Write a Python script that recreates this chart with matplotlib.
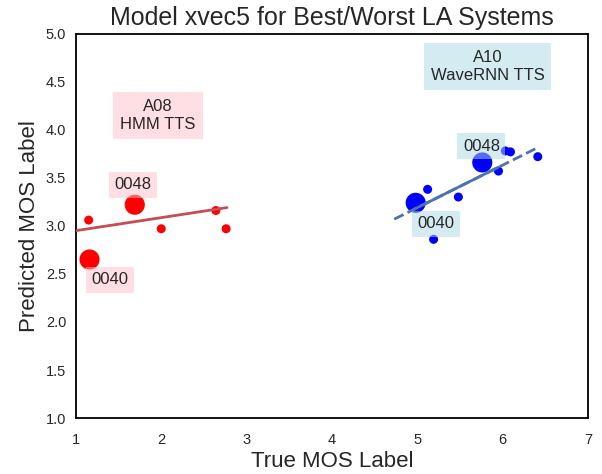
import numpy as np
import matplotlib
matplotlib.use("Agg")
import matplotlib.pyplot as plt
import seaborn as sns

# A08 (HMM TTS) points: true MOS, predicted MOS
a08_true = [1.16, 1.69, 1.15, 2.00, 2.64, 2.76]
a08_pred = [2.65, 3.22, 3.06, 2.97, 3.16, 2.97]
a08_big = [True, True, False, False, False, False]
a08_ids = ["0040", "0048", "", "", "", ""]

# A10 (WaveRNN TTS) points
a10_true = [4.98, 5.76, 5.12, 5.48, 5.19, 5.95, 6.03, 6.09, 6.41]
a10_pred = [3.24, 3.66, 3.38, 3.30, 2.86, 3.57, 3.78, 3.77, 3.72]
a10_big = [True, True, False, False, False, False, False, False, False]
a10_ids = ["0040", "0048", "", "", "", "", "", "", ""]

# fitted lines (endpoints)
a08_fit_x = [1.0, 2.77]
a08_fit_y = [2.95, 3.19]
a10_fit_x = [4.73, 6.40]
a10_fit_y = [3.07, 3.81]

sns.set_style("white")
plt.rcParams['font.family'] = ['Liberation Sans', 'DejaVu Sans']

fig = plt.figure(figsize=(6.02, 4.74), dpi=100)
ax = fig.add_axes([0.126, 0.118, 0.851, 0.811])

for xs, ys, big, col in [(a08_true, a08_pred, a08_big, "red"),
                         (a10_true, a10_pred, a10_big, "blue")]:
    sizes = [210 if b else 42 for b in big]
    ax.scatter(xs, ys, s=sizes, c=col, edgecolors="none", zorder=2)

ax.plot(a08_fit_x, a08_fit_y, color="#c44e52", lw=2, zorder=3)
ax.plot(a10_fit_x, a10_fit_y, color="#4c72b0", lw=2, ls="--", zorder=3)
ax.plot([4.95, 5.95], np.interp([4.95, 5.95], a10_fit_x, a10_fit_y),
        color="#4c72b0", lw=2, zorder=3)

label_pos = {("A08", "0048"): (1.67, 3.43), ("A08", "0040"): (1.40, 2.44),
             ("A10", "0048"): (5.75, 3.83), ("A10", "0040"): (5.22, 3.02)}
for sys_name, ids, fc in [("A08", a08_ids, "pink"), ("A10", a10_ids, "lightblue")]:
    for i in ids:
        if i:
            x, y = label_pos[(sys_name, i)]
            ax.text(x, y, i, ha="center", va="center", fontsize=12,
                    color="#262626", zorder=4,
                    bbox=dict(facecolor=fc, alpha=0.5, edgecolor="none", pad=4))

ax.text(1.96, 4.15, "A08\nHMM TTS", ha="center", va="center", fontsize=12,
        color="#262626", bbox=dict(facecolor="pink", alpha=0.5, edgecolor="none", pad=5))
ax.text(5.82, 4.66, "A10\nWaveRNN TTS", ha="center", va="center", fontsize=12,
        color="#262626", bbox=dict(facecolor="lightblue", alpha=0.5, edgecolor="none", pad=5))

ax.set_xlim(1, 7)
ax.set_ylim(1, 5)
ax.set_yticks(np.arange(1.0, 5.01, 0.5))
ax.set_xticks(range(1, 8))
ax.tick_params(labelsize=10.5, colors="#262626")
ax.tick_params(axis="x", pad=7)
for sp in ax.spines.values():
    sp.set_color("black")
    sp.set_linewidth(1.3)
ax.set_xlabel("True MOS Label", fontsize=16, color="#262626", labelpad=3)
ax.set_ylabel("Predicted MOS Label", fontsize=16, color="#262626")
ax.set_title("Model xvec5 for Best/Worst LA Systems", fontsize=18, color="#262626")

fig.savefig("out.png", dpi=100)
